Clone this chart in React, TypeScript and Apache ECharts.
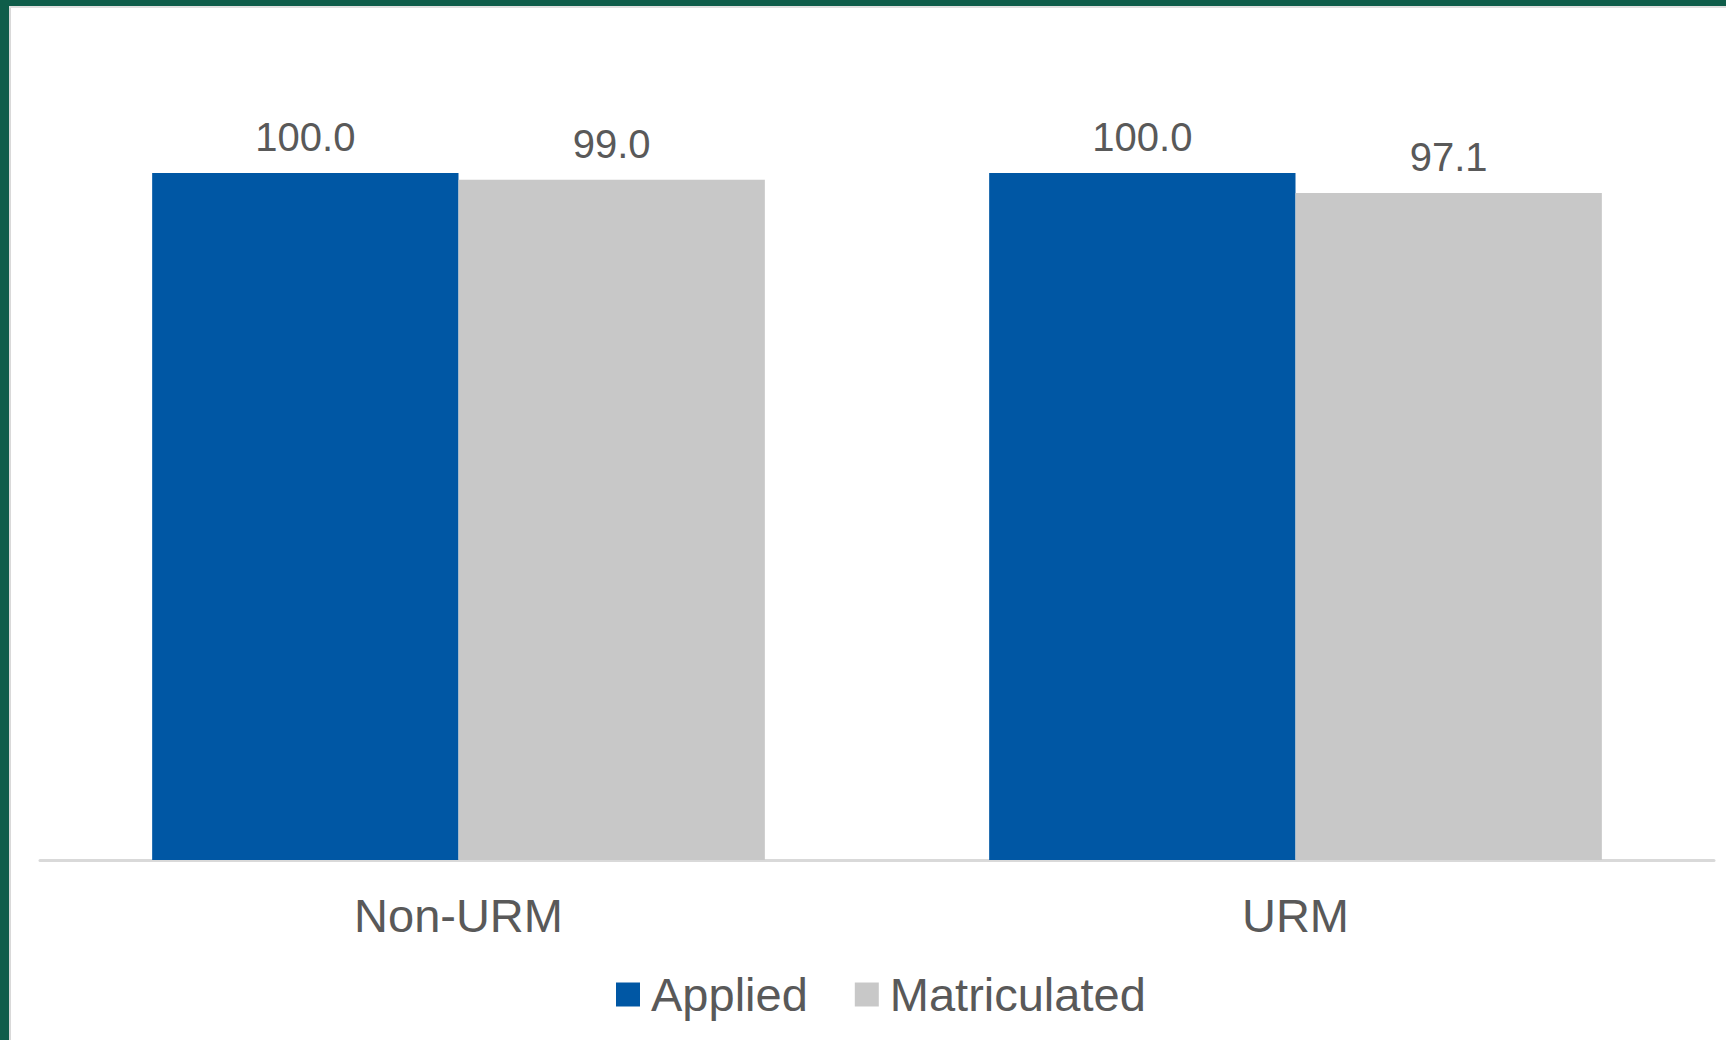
import React, { useEffect, useRef } from "react";
import * as echarts from "echarts";

const categories = ["Non-URM", "URM"];
const seriesNames = ["Applied", "Matriculated"];
const appliedValues = [100.0, 100.0];
const matriculatedValues = [99.0, 97.1];
const colors = ["#0057A4", "#C8C8C8"];

export default function App() {
  const ref = useRef<HTMLDivElement>(null);
  useEffect(() => {
    if (!ref.current) return;
    const chart = echarts.init(ref.current, null, { renderer: "svg" });
    const font = "'Liberation Sans', Arial, sans-serif";
    const labelCfg = {
      show: true,
      position: "top",
      distance: 16,
      color: "#595959",
      fontSize: 40,
      fontFamily: font,
      formatter: (p: any) => Number(p.value).toFixed(1),
    };
    chart.setOption({
      animation: false,
      backgroundColor: "#ffffff",
      graphic: [
        { type: "rect", shape: { x: 0, y: 0, width: 1726, height: 6 }, style: { fill: "#0f5d4a" }, z: 10 },
        { type: "rect", shape: { x: 0, y: 0, width: 9, height: 1040 }, style: { fill: "#0f5d4a" }, z: 10 },
        { type: "rect", shape: { x: 9, y: 6, width: 2, height: 1034 }, style: { fill: "#d9d9d9" }, z: 10 },
        { type: "rect", shape: { x: 9, y: 6, width: 1717, height: 2 }, style: { fill: "#e0e0e0" }, z: 10 },
      ],
      legend: {
        data: seriesNames,
        left: 611,
        top: 966,
        itemWidth: 24,
        itemHeight: 24,
        itemGap: 47,
        icon: "rect",
        textStyle: {
          color: "#595959",
          fontSize: 47,
          fontFamily: font,
          padding: [0, 0, 0, 6],
        },
      },
      grid: {
        left: 40,
        right: 12,
        top: 173,
        height: 687,
      },
      xAxis: {
        type: "category",
        data: categories,
        axisLine: { show: true, lineStyle: { color: "#d9d9d9", width: 3 } },
        axisTick: { show: false },
        axisLabel: {
          color: "#595959",
          fontSize: 47,
          fontFamily: font,
          margin: 32,
        },
      },
      yAxis: {
        type: "value",
        min: 0,
        max: 100,
        show: false,
        splitLine: { show: false },
      },
      series: [
        {
          name: seriesNames[0],
          type: "bar",
          data: appliedValues,
          barGap: "0%",
          barCategoryGap: "26.8%",
          itemStyle: { color: colors[0] },
          label: labelCfg,
        },
        {
          name: seriesNames[1],
          type: "bar",
          data: matriculatedValues,
          barGap: "0%",
          barCategoryGap: "26.8%",
          itemStyle: { color: colors[1] },
          label: labelCfg,
        },
      ],
    });
    return () => chart.dispose();
  }, []);
  return (
    <div
      ref={ref}
      style={{ position: "fixed", left: 0, top: 0, width: 1726, height: 1040 }}
    />
  );
}
